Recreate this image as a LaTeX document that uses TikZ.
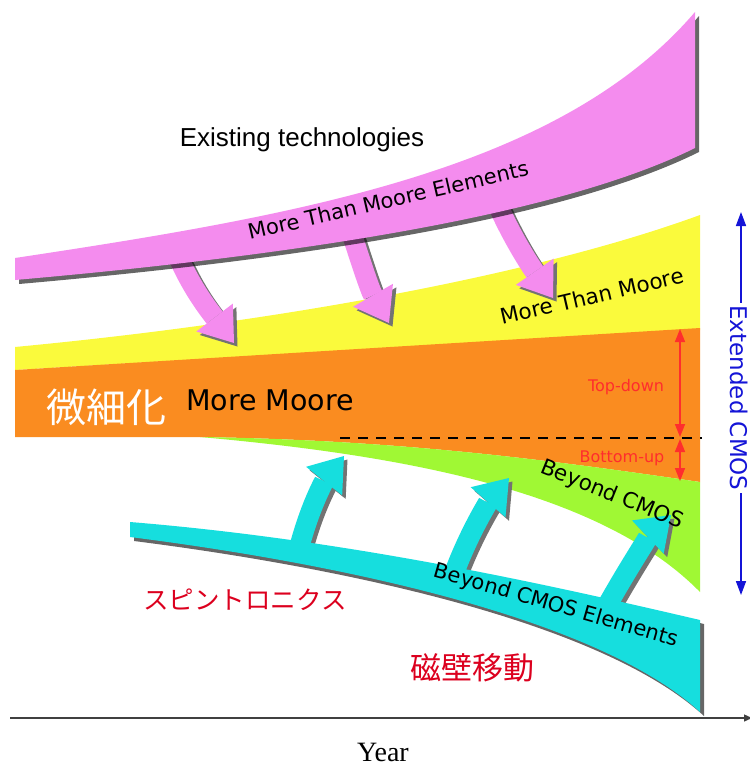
\documentclass[tikz,border=0pt]{standalone}
\usepackage{fontspec}
\setmainfont{Liberation Serif}
\newfontfamily\arialf{Liberation Sans}
\newfontfamily\comicf{DejaVu Sans}
\newfontfamily\cjkf{Noto Sans CJK JP}
\usetikzlibrary{arrows.meta,shadows}
\definecolor{pinkc}{RGB}{244,140,238}
\definecolor{yellowc}{RGB}{250,250,60}
\definecolor{orangec}{RGB}{250,140,32}
\definecolor{greenc}{RGB}{160,248,52}
\definecolor{cyanc}{RGB}{22,222,222}
\definecolor{redtxt}{RGB}{220,0,30}
\definecolor{redarr}{RGB}{255,45,45}
\definecolor{bluec}{RGB}{20,20,215}
\begin{document}
\begin{tikzpicture}[x=1pt,y=-1pt,
  fatarrow/.style={line width=20pt,
    -{Triangle[width=46pt,length=32pt,line width=0pt]}},
  fatpink/.style={fatarrow, draw=pinkc},
  fatcyan/.style={fatarrow, draw=cyanc},
  fatshadow/.style={fatarrow, draw=black!55},
  bandshadow/.style={drop shadow={shadow xshift=4pt,shadow yshift=-4pt,fill=black,opacity=.6}},
  comic/.style={font=\comicf\fontsize{#1}{#1}\selectfont, inner sep=0pt},
  redarrow/.style={draw=redarr, line width=1.6pt, {Triangle[width=10pt,length=13pt]}-{Triangle[width=10pt,length=13pt]}},
  jp/.style={font=\cjkf\fontsize{#1}{#1}\selectfont, inner sep=0pt},
]
\useasboundingbox (0,0) rectangle (750,769);

% background bands
\fill[yellowc] (15,347) .. controls (300,320) and (550,270) .. (700,215) -- (700,330) -- (15,370) -- cycle;
\fill[orangec] (15,370) -- (700,328) -- (700,482) .. controls (550,460) and (400,440) .. (200,437) -- (15,437) -- cycle;
\fill[greenc] (200,437) .. controls (400,440) and (550,460) .. (700,482) -- (700,592) .. controls (600,490) and (400,455) .. (200,437) -- cycle;

% dashed line
\coordinate (d0) at (340,438);
\coordinate (d1) at (702,438);
\draw[line width=2pt, dash pattern=on 10pt off 8pt] (d0) -- (d1);

% pink arrows
\coordinate (p1s) at (176,252); \coordinate (p1e) at (234,343);
\coordinate (p2s) at (348,222); \coordinate (p2e) at (389,323);
\coordinate (p3s) at (493,194); \coordinate (p3e) at (553,298);
\begin{scope}[transform canvas={xshift=3.5pt,yshift=-3.5pt}]
\draw[fatshadow] (p1s) .. controls (190,285) and (205,305) .. (p1e);
\draw[fatshadow] (p2s) .. controls (360,260) and (370,290) .. (p2e);
\draw[fatshadow] (p3s) .. controls (510,235) and (530,265) .. (p3e);
\end{scope}
\draw[fatpink] (p1s) .. controls (190,285) and (205,305) .. (p1e);
\draw[fatpink] (p2s) .. controls (360,260) and (370,290) .. (p2e);
\draw[fatpink] (p3s) .. controls (510,235) and (530,265) .. (p3e);

% pink band
\fill[pinkc, bandshadow] (15,258) .. controls (300,215) and (560,170) .. (695,12) -- (695,148) .. controls (560,215) and (300,255) .. (15,280) -- cycle;

% cyan arrows
\coordinate (c1s) at (298,552); \coordinate (c1e) at (344,456);
\coordinate (c2s) at (453,576); \coordinate (c2e) at (509,478);
\coordinate (c3s) at (608,604); \coordinate (c3e) at (671,515);
\begin{scope}[transform canvas={xshift=3.5pt,yshift=-3.5pt}]
\draw[fatshadow] (c1s) .. controls (310,505) and (325,480) .. (c1e);
\draw[fatshadow] (c2s) .. controls (470,530) and (490,500) .. (c2e);
\draw[fatshadow] (c3s) .. controls (630,565) and (650,535) .. (c3e);
\end{scope}
\draw[fatcyan] (c1s) .. controls (310,505) and (325,480) .. (c1e);
\draw[fatcyan] (c2s) .. controls (470,530) and (490,500) .. (c2e);
\draw[fatcyan] (c3s) .. controls (630,565) and (650,535) .. (c3e);

% cyan band
\fill[cyanc, bandshadow] (130,522) .. controls (350,540) and (550,585) .. (700,620) -- (700,712) .. controls (600,620) and (350,565) .. (130,537) -- cycle;

% texts
\node[font=\arialf\fontsize{26}{30}\selectfont, inner sep=0pt] (existing) at (302,140) {Existing technologies};
\node[comic=21, rotate=13] (mtme) at (388,200) {More Than Moore Elements};
\node[comic=21.5, rotate=13] (mtm) at (592,296) {More Than Moore};
\node[comic=28.5] (mm) at (270,400) {More Moore};
\node[jp=40, white] (bisai) at (106,407) {微細化};
\node[comic=21.5, rotate=-22] (bc) at (612,495) {Beyond CMOS};
\node[comic=21, rotate=-16] (bce) at (556,606) {Beyond CMOS Elements};
\node[jp=25.5, redtxt] (spin) at (245,600) {スピントロニクス};
\node[jp=31, redtxt] (jiheki) at (472,668) {磁壁移動};
\node[comic=16, redarr] (topdown) at (626,387) {Top-down};
\node[comic=16, redarr] (bottomup) at (622,458) {Bottom-up};

% red arrows
\coordinate (tdT) at (680,329); \coordinate (tdB) at (680,437);
\coordinate (buT) at (680,439); \coordinate (buB) at (680,481);
\draw[redarrow] (tdT) -- (tdB);
\draw[redarrow] (buT) -- (buB);

% blue extended CMOS arrow
\coordinate (bt) at (741,212); \coordinate (bb) at (741,595);
\draw[draw=bluec, line width=1.6pt, {Triangle[width=10pt,length=14pt]}-{Triangle[width=10pt,length=14pt]}] (bt) -- (bb);
\node[comic=23, bluec, rotate=-90, fill=white, inner sep=2pt] (extcmos) at (739,398) {Extended CMOS};

% axis
\coordinate (ax0) at (10,718); \coordinate (ax1) at (752,718);
\draw[line width=1.4pt, black!75, -{Triangle[width=7pt,length=8pt]}] (ax0) -- (ax1);
\node[font=\fontsize{28}{30}\selectfont, inner sep=0pt] (year) at (383,752) {Year};
\end{tikzpicture}
\end{document}
